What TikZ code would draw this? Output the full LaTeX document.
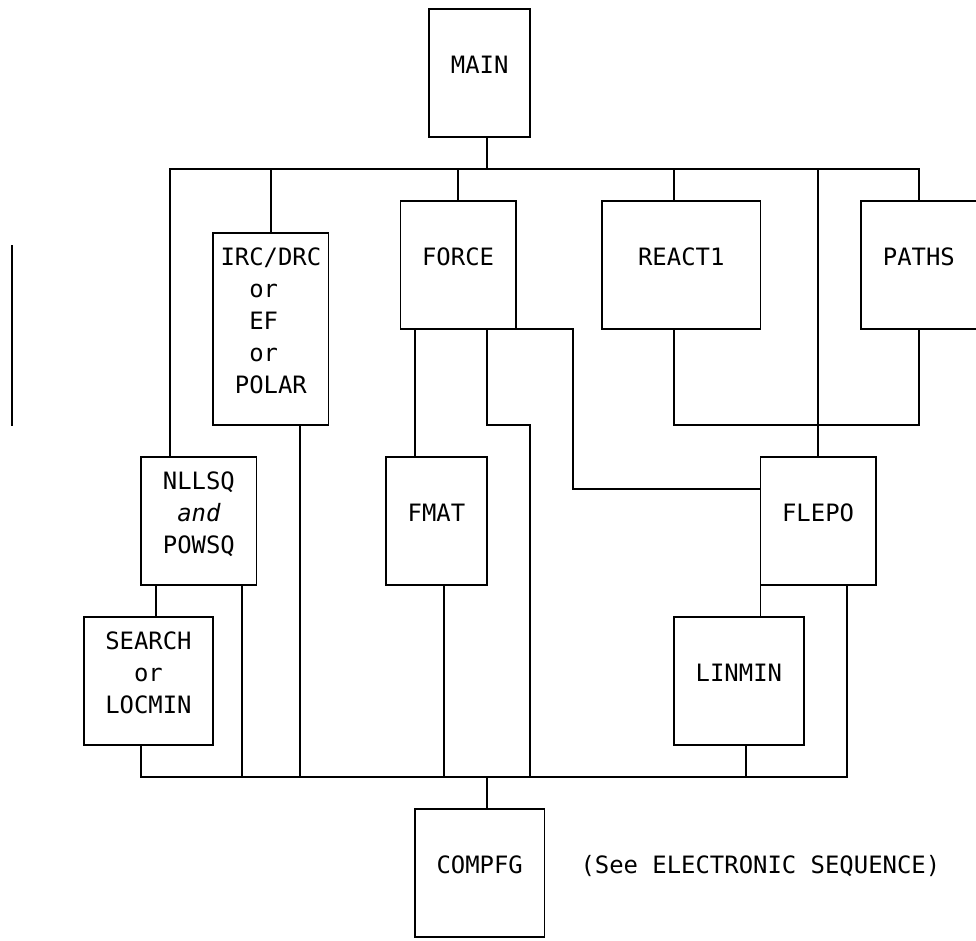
\documentclass[tikz,border=0pt]{standalone}
\usepackage{fontspec}
\setmonofont{DejaVu Sans Mono}
\begin{document}
\begin{tikzpicture}[x=14.4pt,y=-32pt,
  box/.style={draw=black,line width=1.7pt,inner sep=0pt,outer sep=0pt,rectangle},
  wire/.style={draw=black,line width=1.7pt,line cap=rect,line join=miter},
  lbl/.style={font=\ttfamily\fontsize{23.9}{32}\selectfont,anchor=base west,inner sep=0pt,outer sep=0pt,text=black}]
\fill[white] (-0.8125,-0.28125) rectangle (66.9653,29.09375);
\useasboundingbox (-0.8125,-0.28125) rectangle (66.9653,29.09375);

% ---------- boxes ----------
\node[box,minimum width=100.8pt,minimum height=128pt] (main)   at (32.5,2)  {};
\node[box,minimum width=115.2pt,minimum height=192pt] (irc)    at (18,10)   {};
\node[box,minimum width=115.2pt,minimum height=128pt] (force)  at (31,8)    {};
\node[box,minimum width=158.4pt,minimum height=128pt] (react1) at (46.5,8)  {};
\node[box,minimum width=115.2pt,minimum height=128pt] (paths)  at (63,8)    {};
\node[box,minimum width=115.2pt,minimum height=128pt] (nllsq)  at (13,16)   {};
\node[box,minimum width=100.8pt,minimum height=128pt] (fmat)   at (29.5,16) {};
\node[box,minimum width=115.2pt,minimum height=128pt] (flepo)  at (56,16)   {};
\node[box,minimum width=129.6pt,minimum height=128pt] (search) at (9.5,21)  {};
\node[box,minimum width=129.6pt,minimum height=128pt] (linmin) at (50.5,21) {};
\node[box,minimum width=129.6pt,minimum height=128pt] (compfg) at (32.5,27) {};

% ---------- labels ----------
\node[lbl] (mainT)   at (30.5,2)  {MAIN};
\node[lbl] (ircT1)   at (14.5,8)  {IRC/DRC};
\node[lbl] (ircT2)   at (16.5,9)  {or};
\node[lbl] (ircT3)   at (16.5,10) {EF};
\node[lbl] (ircT4)   at (16.5,11) {or};
\node[lbl] (ircT5)   at (15.5,12) {POLAR};
\node[lbl] (forceT)  at (28.5,8)  {FORCE};
\node[lbl] (react1T) at (43.5,8)  {REACT1};
\node[lbl] (pathsT)  at (60.5,8)  {PATHS};
\node[lbl] (nllsqT1) at (10.5,15) {NLLSQ};
\node[lbl] (nllsqT2) at (11.5,16) {\itshape and};
\node[lbl] (nllsqT3) at (10.5,17) {POWSQ};
\node[lbl] (fmatT)   at (27.5,16) {FMAT};
\node[lbl] (flepoT)  at (53.5,16) {FLEPO};
\node[lbl] (searchT1) at (6.5,20) {SEARCH};
\node[lbl] (searchT2) at (8.5,21) {or};
\node[lbl] (searchT3) at (6.5,22) {LOCMIN};
\node[lbl] (linminT) at (47.5,21) {LINMIN};
\node[lbl] (compfgT) at (29.5,27) {COMPFG};
\node[lbl] (seeT)    at (39.5,27) {(See ELECTRONIC SEQUENCE)};

% ---------- coordinates ----------
\coordinate (busL) at (11,5);
\coordinate (busM) at (33,5);
\coordinate (busR) at (63,5);
\coordinate (b18) at (18,5);
\coordinate (b31) at (31,5);
\coordinate (b46) at (46,5);
\coordinate (b56) at (56,5);
\coordinate (lowL) at (9,24);
\coordinate (lowR) at (58,24);
\coordinate (l16) at (16,24);
\coordinate (l20) at (20,24);
\coordinate (l30) at (30,24);
\coordinate (l33) at (33,24);
\coordinate (l36) at (36,24);
\coordinate (l51) at (51,24);
\coordinate (x10) at (10,0);
\coordinate (x28) at (28,0);
\coordinate (k33) at (33,13);
\coordinate (k39a) at (39,10);
\coordinate (k39b) at (39,15);
\coordinate (k46) at (46,13);
\coordinate (k63) at (63,13);
\coordinate (sA) at (0,7.41);
\coordinate (sB) at (0,13);

% ---------- connectors ----------
\draw[wire] (main.south -| busM) -- (busM);
\draw[wire] (busL) -- (busR);
\draw[wire] (busL) -- (nllsq.north -| busL);
\draw[wire] (b18) -- (irc.north -| b18);
\draw[wire] (b31) -- (force.north -| b31);
\draw[wire] (b46) -- (react1.north -| b46);
\draw[wire] (b56) -- (flepo.north -| b56);
\draw[wire] (busR) -- (paths.north -| busR);

\draw[wire] (lowL) -- (lowR);
\draw[wire] (search.south -| lowL) -- (lowL);
\draw[wire] (irc.south -| l20) -- (l20);
\draw[wire] (nllsq.south -| l16) -- (l16);
\draw[wire] (nllsq.south -| x10) -- (search.north -| x10);
\draw[wire] (fmat.south -| l30) -- (l30);
\draw[wire] (force.south -| x28) -- (fmat.north -| x28);
\draw[wire] (force.south -| k33) -- (k33) -- (k33 -| l36) -- (l36);
\draw[wire] (force.south east) -- (k39a) -- (k39b) -- (k39b -| flepo.west);
\draw[wire] (react1.south -| k46) -- (k46) -- (k63) -- (paths.south -| k63);
\draw[wire] (flepo.south west) -- (linmin.north -| flepo.west);
\draw[wire] (flepo.south -| lowR) -- (lowR);
\draw[wire] (linmin.south -| l51) -- (l51);
\draw[wire] (l33) -- (compfg.north -| l33);
\draw[wire] (sA) -- (sB);
\end{tikzpicture}
\end{document}
